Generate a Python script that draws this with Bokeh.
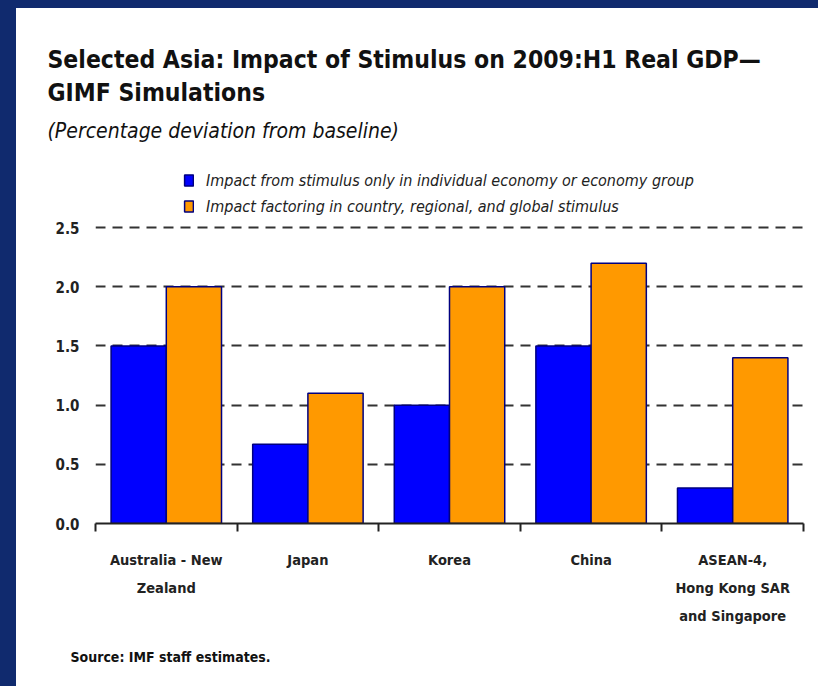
from bokeh.plotting import figure
from bokeh.models import (ColumnDataSource, FixedTicker, Legend, LegendItem, Title,
                          GlobalInlineStyleSheet, Range1d, PrintfTickFormatter)
from bokeh.embed import file_html
from bokeh.resources import INLINE

categories = ["Australia - New\nZealand", "Japan", "Korea", "China",
              "ASEAN-4,\nHong Kong SAR\nand Singapore"]
own_stimulus = [1.5, 0.67, 1.0, 1.5, 0.3]
global_stimulus = [2.0, 1.1, 2.0, 2.2, 1.4]
y_ticks = [0.0, 0.5, 1.0, 1.5, 2.0, 2.5]
series_names = ["Impact from stimulus only in individual economy or economy group",
                "Impact factoring in country, regional, and global stimulus"]

NAVY = "#102a6e"
FONT = "'DejaVu Sans Condensed', sans-serif"

n = len(categories)
centers = [i + 0.5 for i in range(n)]
bw = 0.39
src = ColumnDataSource(dict(
    xb=[c - bw / 2 for c in centers], xo=[c + bw / 2 for c in centers],
    own=own_stimulus, glob=global_stimulus))

p = figure(width=802, height=678, output_backend="svg", toolbar_location=None,
           x_range=Range1d(0, n), y_range=Range1d(0, 3.025),
           min_border_left=79, min_border_right=15, min_border_top=157,
           min_border_bottom=163, background_fill_color="white",
           border_fill_color="white", styles={"background-color": "white"})
p.outline_line_color = None
p.outline_line_alpha = 0

r1 = p.vbar(x="xb", top="own", width=bw, source=src, fill_color="#0000ff",
            line_color="#000080", line_width=1.5)
r2 = p.vbar(x="xo", top="glob", width=bw, source=src, fill_color="#ff9900",
            line_color="#000080", line_width=1.5)

# grid
p.xgrid.visible = False
p.ygrid.ticker = FixedTicker(ticks=y_ticks[1:])
p.ygrid.grid_line_color = "#333333"
p.ygrid.grid_line_width = 2
p.ygrid.grid_line_dash = "10 7"
p.ygrid.level = "underlay"

# y axis
yax = p.yaxis[0]
yax.ticker = FixedTicker(ticks=y_ticks)
yax.formatter = PrintfTickFormatter(format="%.1f")
yax.axis_line_color = None
yax.major_tick_line_color = None
yax.minor_tick_line_color = None
yax.major_tick_out = 0
yax.major_label_standoff = 16
yax.major_label_text_font = FONT
yax.major_label_text_font_style = "bold"
yax.major_label_text_font_size = "15px"
yax.major_label_text_color = "#222222"

# x axis
xax = p.xaxis[0]
xax.ticker = FixedTicker(ticks=centers, minor_ticks=list(range(n + 1)))
xax.major_label_overrides = {c: lab for c, lab in zip(centers, categories)}
xax.major_tick_line_color = None
xax.major_tick_out = 0
xax.minor_tick_line_color = "#222222"
xax.minor_tick_line_width = 2
xax.minor_tick_out = 8
xax.minor_tick_in = 0
xax.axis_line_color = "#222222"
xax.axis_line_width = 2
xax.major_label_standoff = 20
xax.major_label_text_font = FONT
xax.major_label_text_font_style = "bold"
xax.major_label_text_font_size = "14.5px"
xax.major_label_text_line_height = 1.75
xax.major_label_text_color = "#222222"

# legend (inside the frame, above the 2.5 grid line)
legend = Legend(items=[LegendItem(label=series_names[0], renderers=[r1]),
                       LegendItem(label=series_names[1], renderers=[r2])],
                location=(88, 307), orientation="vertical",
                label_text_font=FONT, label_text_font_style="italic",
                label_text_font_size="16px", label_text_color="#222222",
                glyph_width=11, glyph_height=14, label_height=20,
                label_standoff=12, spacing=6, padding=0, margin=0,
                border_line_color=None, background_fill_alpha=0)
p.add_layout(legend, "center")

# titles (later added = further from the plot)
def add_title(text, size, style, side, offset, standoff):
    p.add_layout(Title(text=text, text_font=FONT, text_font_style=style,
                       text_font_size=size, text_color="#111111", align="left",
                       offset=offset, standoff=standoff), side)

add_title("(Percentage deviation from baseline)", "21px", "italic", "above", -48, 45)
add_title("GIMF Simulations", "24.5px", "bold", "above", -48, -24)
add_title("Selected Asia: Impact of Stimulus on 2009:H1 Real GDP\u2014", "24.5px", "bold", "above", -48, 28)
add_title("Source: IMF staff estimates.", "14px", "bold", "below", -25, 40)

p.stylesheets = [GlobalInlineStyleSheet(
    css="html, body { background-color: %s; } body { margin: 8px 0 0 16px; }" % NAVY)]

open("out.html", "w").write(file_html(p, INLINE))
